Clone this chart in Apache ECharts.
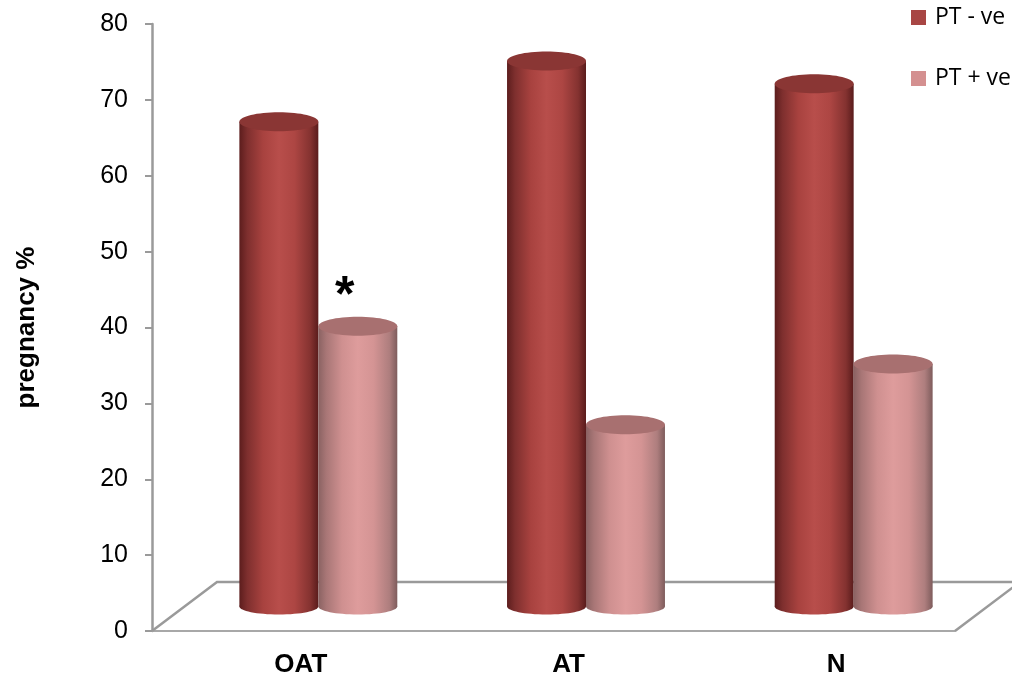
<!DOCTYPE html>
<html><head><meta charset="utf-8">
<script src="https://cdn.jsdelivr.net/npm/echarts@6/dist/echarts.min.js"></script>
<style>html,body{margin:0;padding:0;background:#fff}#c{width:1012px;height:683px}</style>
</head><body><div id="c"></div>
<script>
// ---- data ----
const categories = ['OAT', 'AT', 'N'];
const seriesNames = ['PT - ve', 'PT + ve'];
const ptNegative = [64, 72, 69];
const ptPositive = [37, 24, 32];
const annotations = ['*', '', ''];
const yMin = 0, yMax = 80, yStep = 10;
const yAxisTitle = 'pregnancy %';

// ---- styles ----
const G0 = {left: 152, top: 24, width: 803, height: 607};   // front plane (axes)
const DEPTH = {dx: 65, dy: -49};                              // floor depth
const G1 = {left: G0.left + DEPTH.dx / 2, top: G0.top + DEPTH.dy / 2 + 1, width: G0.width, height: G0.height - 1};
const AXIS_COLOR = '#9a9a9a';
const palettes = [
  {legend: '#A84644', top: '#8A3634',
   stops: [[0, '#5c1d1d'], [0.1, '#7e2f2e'], [0.3, '#a8423f'], [0.5, '#b84e4b'], [0.7, '#ad4643'], [0.9, '#843230'], [1, '#5a1c1c']]},
  {legend: '#D49090', top: '#A87070',
   stops: [[0, '#8a6262'], [0.1, '#a87676'], [0.3, '#cf9090'], [0.5, '#de9c9c'], [0.7, '#d49494'], [0.9, '#ae7e7e'], [1, '#7e5c5c']]}
];
function grad(stops) {
  return {type: 'linear', x: 0, y: 0, x2: 1, y2: 0, global: false,
    colorStops: stops.map(s => ({offset: s[0], color: s[1]}))};
}

function renderCylinder(params, api) {
  const si = params.seriesIndex;
  const idx = params.dataIndex;
  const cat = api.value(0), val = api.value(1);
  const top = api.coord([cat, val]);
  const base = api.coord([cat, 0]);
  const band = api.size([1, 0])[0];
  const w = band * 0.295;
  const cx = top[0] + (si === 0 ? -w / 2 : w / 2);
  const pal = palettes[si];
  const children = [
    {type: 'ellipse', shape: {cx: cx, cy: base[1], rx: w / 2, ry: 8}, style: {fill: grad(pal.stops)}},
    {type: 'rect', shape: {x: cx - w / 2, y: top[1], width: w, height: base[1] - top[1]}, style: {fill: grad(pal.stops)}},
    {type: 'ellipse', shape: {cx: cx, cy: top[1], rx: w / 2, ry: 9.5}, style: {fill: pal.top}}
  ];
  if (si === 1 && annotations[idx]) {
    children.push({type: 'text', x: cx - 13, y: top[1] - 29,
      style: {text: annotations[idx], font: 'bold 50px "Liberation Sans", Arial', fill: '#000', align: 'center', verticalAlign: 'middle'}});
  }
  return {type: 'group', children: children};
}

const chart = echarts.init(document.getElementById('c'), null, {renderer: 'canvas'});
const seriesData = [ptNegative, ptPositive];

const option = {
  animation: false,
  backgroundColor: '#fff',
  grid: [
    {left: G0.left, top: G0.top, width: G0.width, height: G0.height},
    {left: G1.left, top: G1.top, width: G1.width, height: G1.height}
  ],
  xAxis: [
    {type: 'category', gridIndex: 0, data: categories,
     axisLine: {show: true, lineStyle: {color: '#a8a8a8', width: 2}},
     axisTick: {show: false},
     axisLabel: {margin: 21, padding: [0, 0, 0, 30], fontFamily: '"Liberation Sans", Arial', fontSize: 26, fontWeight: 'bold', color: '#000'}},
    {type: 'category', gridIndex: 1, data: categories, show: false}
  ],
  yAxis: [
    {type: 'value', gridIndex: 0, min: yMin, max: yMax, interval: yStep,
     name: yAxisTitle, nameLocation: 'middle', nameGap: 112,
     nameTextStyle: {fontFamily: '"Liberation Sans", Arial', fontSize: 26, fontWeight: 'bold', color: '#000'},
     axisLine: {show: true, lineStyle: {color: AXIS_COLOR, width: 2.5}},
     axisTick: {show: true, length: 7, lineStyle: {color: AXIS_COLOR, width: 2}},
     splitLine: {show: false},
     axisLabel: {margin: 24, fontFamily: '"Liberation Sans", Arial', fontSize: 25, color: '#000'}},
    {type: 'value', gridIndex: 1, min: yMin, max: yMax, interval: yStep, show: false, splitLine: {show: false}}
  ],
  legend: {
    orient: 'vertical', left: 911, top: 6, itemWidth: 15, itemHeight: 15, itemGap: 38, padding: 0,
    icon: 'rect',
    textStyle: {fontFamily: '"Open Sans", sans-serif', fontSize: 23, color: '#000', padding: [0, 0, 0, 4]},
    data: seriesNames.map((n, i) => ({name: n, itemStyle: {color: palettes[i].legend}}))
  },
  series: seriesNames.map((n, i) => ({
    name: n, type: 'custom', xAxisIndex: 1, yAxisIndex: 1, z: 5,
    itemStyle: {color: palettes[i].legend},
    encode: {x: 0, y: 1},
    data: seriesData[i].map((v, k) => [k, v]),
    renderItem: renderCylinder
  })),
  graphic: {
    elements: [
      {type: 'polyline', z: 1, silent: true,
       shape: {points: [[G0.left, G0.top + G0.height], [G0.left + DEPTH.dx, G0.top + G0.height + DEPTH.dy],
                        [G0.left + G0.width + DEPTH.dx, G0.top + G0.height + DEPTH.dy],
                        [G0.left + G0.width, G0.top + G0.height]]},
       style: {stroke: '#9a9a9a', lineWidth: 2.5, fill: null}}
    ]
  }
};
chart.setOption(option);
</script>
</body></html>
